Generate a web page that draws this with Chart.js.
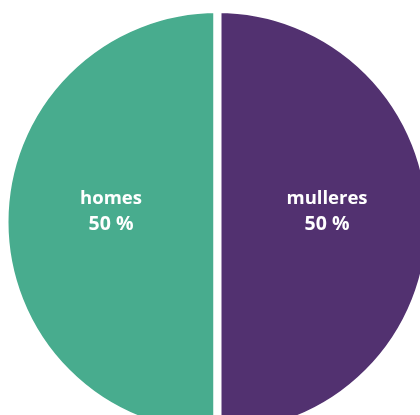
<!DOCTYPE html>
<html>
<head>
<meta charset="utf-8">
<script src="https://cdn.jsdelivr.net/npm/chart.js@4"></script>
<style>
  html, body { margin: 0; padding: 0; overflow: hidden; background: #fff; }
  body { width: 420px; height: 415px; position: relative; }
  #wrap { position: absolute; left: 0; top: 0; width: 435px; height: 444px; }
</style>
</head>
<body>
<div id="wrap"><canvas id="grafico" width="435" height="444"></canvas></div>
<script>
/* ----- Datos ----- */
const categorias = ["homes", "mulleres"];
const porcentaxes = [50, 50];
const cores = ["#48ac8e", "#523170"];

/* ----- Etiquetas dentro das porcións ----- */
const etiquetas = {
    id: "etiquetas",
    afterDatasetsDraw(chart) {
        const ctx = chart.ctx;
        const meta = chart.getDatasetMeta(0);
        ctx.save();
        ctx.fillStyle = "#ffffff";
        ctx.textAlign = "center";
        ctx.textBaseline = "alphabetic";
        meta.data.forEach((arco, i) => {
            const p = arco.tooltipPosition();
            const x = p.x + (i === 1 ? 3 : 0);
            ctx.font = "bold 18.5px 'Open Sans', sans-serif";
            ctx.fillText(chart.data.labels[i], x, p.y - 18);
            ctx.font = "bold 19.5px 'Open Sans', sans-serif";
            ctx.fillText(porcentaxes[i] + " %", x, p.y + 8);
        });
        ctx.restore();
    }
};

/* ----- Gráfico ----- */
new Chart(document.getElementById("grafico"), {
    type: "pie",
    data: {
        labels: categorias,
        datasets: [{
            data: porcentaxes,
            backgroundColor: cores,
            borderColor: "#ffffff",
            borderWidth: 8
        }]
    },
    options: {
        responsive: false,
        animation: false,
        rotation: 180,
        radius: 213,
        plugins: {
            legend: { display: false },
            tooltip: { enabled: false }
        }
    },
    plugins: [etiquetas]
});
</script>
</body>
</html>
